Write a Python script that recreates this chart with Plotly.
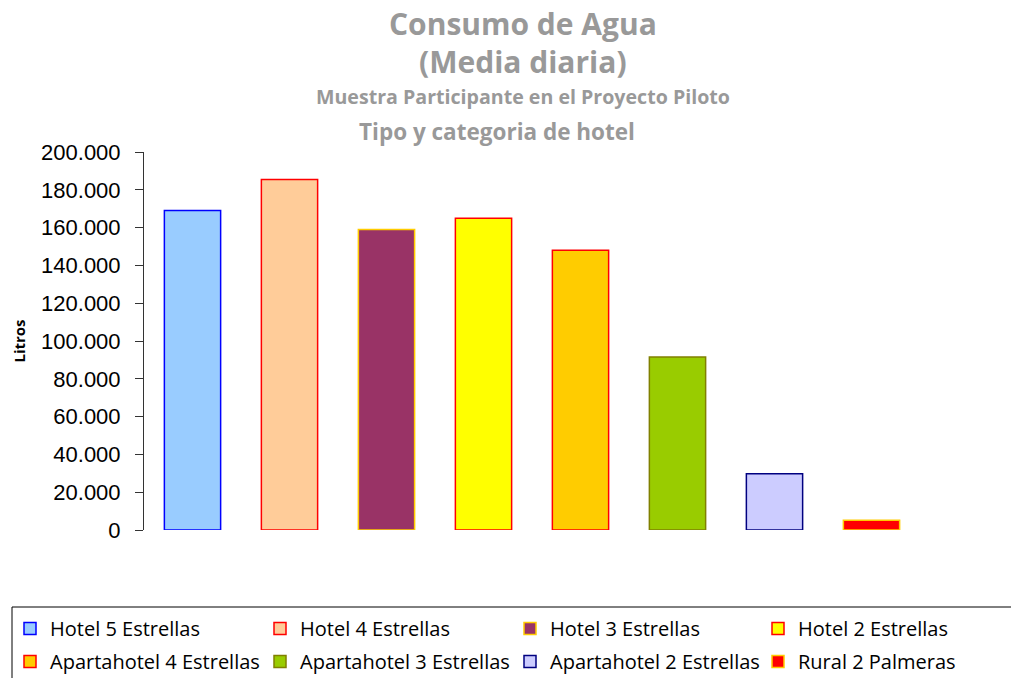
import plotly.graph_objects as go

categories = ["Hotel 5 Estrellas", "Hotel 4 Estrellas", "Hotel 3 Estrellas", "Hotel 2 Estrellas",
              "Apartahotel 4 Estrellas", "Apartahotel 3 Estrellas", "Apartahotel 2 Estrellas", "Rural 2 Palmeras"]
values = [169000, 185500, 159000, 165000, 148000, 91500, 29800, 5200]
fill_colors = ["#99CCFF", "#FFCC99", "#993366", "#FFFF00", "#FFCC00", "#99CC00", "#CCCCFF", "#FF0000"]
line_colors = ["#0000FF", "#FF0000", "#FFCC00", "#FF0000", "#FF0000", "#808000", "#000080", "#FFCC00"]
y_ticks = list(range(0, 200001, 20000))

W, H = 1011, 678
L, R, T, B = 144, 91, 152, 148
PW, PH = W - L - R, H - T - B


def px_x(p):
    return (p - L) / PW


def px_y(p):
    return (H - B - p) / PH


fig = go.Figure()
legend_cols = [10, 260, 510, 758]
legend_rows = [609, 642]
legend_layout = {}
for i, (c, v, fc, lc) in enumerate(zip(categories, values, fill_colors, line_colors)):
    key = "legend" if i == 0 else f"legend{i + 1}"
    fig.add_trace(go.Bar(x=[c], y=[v], name=c, width=0.58, legend=key,
                         marker=dict(color=fc, line=dict(color=lc, width=1.5))))
    legend_layout[key] = dict(orientation="h", xref="paper", yref="paper", xanchor="left", yanchor="top",
                              x=px_x(legend_cols[i % 4]), y=px_y(legend_rows[i // 4]),
                              borderwidth=0, itemwidth=30, bgcolor="rgba(0,0,0,0)",
                              font=dict(family="Open Sans", size=20, color="black"))

gray = "#999999"
title_font = "Open Sans"
fig.update_layout(
    width=W, height=H,
    margin=dict(l=L, r=R, t=T, b=B, autoexpand=False),
    paper_bgcolor="white", plot_bgcolor="white",
    barmode="overlay",
    separators=",.",
    showlegend=True,
    xaxis=dict(categoryorder="array", categoryarray=categories, showticklabels=False,
               showline=False, ticks="", showgrid=False, zeroline=False),
    yaxis=dict(range=[0, 200000], tickvals=y_ticks, tickformat=",d", showline=True,
               linecolor="#333333", linewidth=1, ticks="outside", ticklen=8, tickcolor="#333333",
               ticklabelstandoff=10,
               showgrid=False, zeroline=False,
               tickfont=dict(family="Liberation Sans", size=22, color="black"),
               title=dict(text="<b>Litros</b>", font=dict(family=title_font, size=15, color="black"), standoff=11)),
    **legend_layout,
)

fig.add_shape(type="rect", xref="paper", yref="paper",
              x0=px_x(12), x1=px_x(1016), y0=px_y(607), y1=px_y(684),
              line=dict(color="black", width=1), fillcolor="rgba(0,0,0,0)", layer="below")

titles = [("<b>Consumo de Agua</b>", 30, 523, 23),
          ("<b>(Media diaria)</b>", 30, 523, 62),
          ("<b>Muestra Participante en el Proyecto Piloto</b>", 19.6, 523, 97),
          ("<b>Tipo y categoria de hotel</b>", 22.5, 497, 132)]
for text, size, px, py in titles:
    fig.add_annotation(text=text, xref="paper", yref="paper",
                       x=px_x(px), y=px_y(py),
                       xanchor="center", yanchor="middle", showarrow=False,
                       font=dict(family=title_font, size=size, color=gray))

fig.write_html("out.html")
